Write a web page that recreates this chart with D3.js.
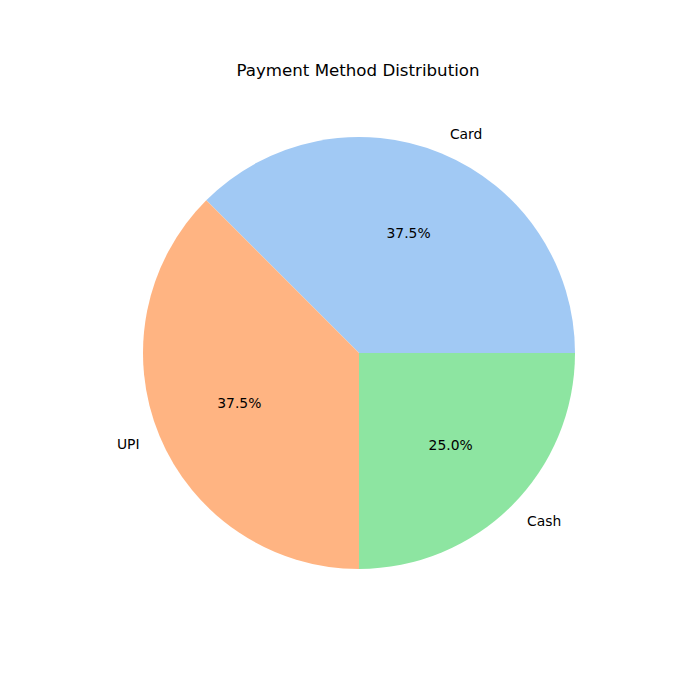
<!DOCTYPE html>
<html>
<head>
<meta charset="utf-8">
<script src="https://cdn.jsdelivr.net/npm/d3@7"></script>
<style>
  body { margin: 0; background: #fff; }
  text { font-family: "DejaVu Sans", sans-serif; fill: #000; }
</style>
</head>
<body>
<svg id="chart" width="700" height="700"></svg>
<script>
const methods = ["Card", "UPI", "Cash"];
const counts = [3, 3, 2];
const colors = ["#a1c9f4", "#ffb482", "#8de5a1"];

const width = 700, height = 700;
const cx = 359, cy = 353, radius = 216;

const svg = d3.select("#chart");

svg.append("text")
    .attr("x", 358)
    .attr("y", 70)
    .attr("text-anchor", "middle")
    .attr("dominant-baseline", "central")
    .style("font-size", "16.67px")
    .text("Payment Method Distribution");

const data = methods.map((m, i) => ({ method: m, value: counts[i] }));
const total = d3.sum(counts);

// counter-clockwise from 3 o'clock, like matplotlib
const pie = d3.pie()
    .value(d => d.value)
    .sort(null)
    .startAngle(Math.PI / 2)
    .endAngle(Math.PI / 2 - 2 * Math.PI);

const arc = d3.arc().innerRadius(0).outerRadius(radius);

const g = svg.append("g").attr("transform", `translate(${cx},${cy})`);
const arcs = pie(data);

g.selectAll("path")
    .data(arcs)
    .enter()
    .append("path")
    .attr("d", arc)
    .attr("fill", (d, i) => colors[i]);

function pos(d, r) {
  const a = (d.startAngle + d.endAngle) / 2;
  return [r * Math.sin(a), -r * Math.cos(a)];
}

g.selectAll("text.label")
    .data(arcs)
    .enter()
    .append("text")
    .attr("class", "label")
    .attr("x", d => pos(d, radius * 1.1)[0])
    .attr("y", d => pos(d, radius * 1.1)[1])
    .attr("text-anchor", d => pos(d, 1)[0] > 0 ? "start" : "end")
    .attr("dominant-baseline", "central")
    .style("font-size", "13.89px")
    .text(d => d.data.method);

g.selectAll("text.pct")
    .data(arcs)
    .enter()
    .append("text")
    .attr("class", "pct")
    .attr("x", d => pos(d, radius * 0.6)[0])
    .attr("y", d => pos(d, radius * 0.6)[1])
    .attr("text-anchor", "middle")
    .attr("dominant-baseline", "central")
    .style("font-size", "13.89px")
    .text(d => (d.data.value / total * 100).toFixed(1) + "%");
</script>
</body>
</html>
